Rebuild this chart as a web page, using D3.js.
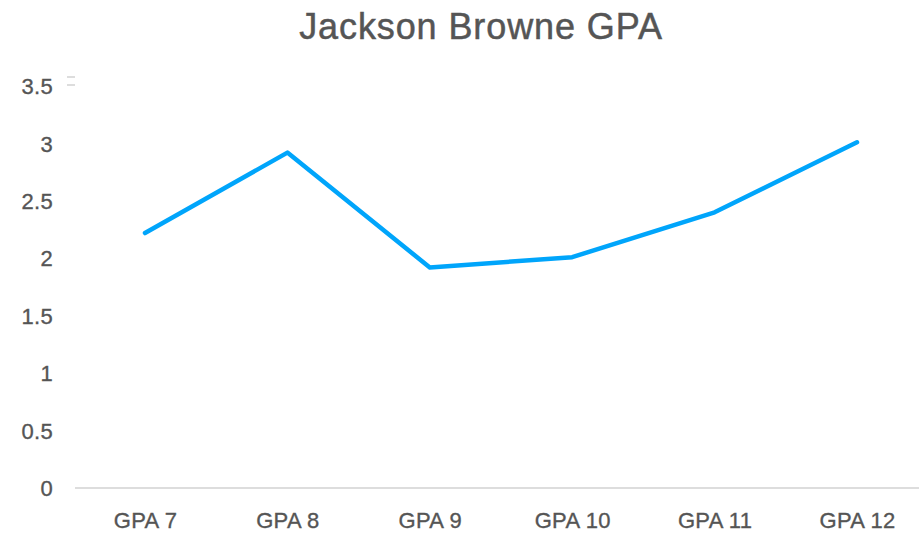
<!DOCTYPE html>
<html>
<head>
<meta charset="utf-8">
<script src="https://cdn.jsdelivr.net/npm/d3@7"></script>
<style>
  html, body { margin: 0; padding: 0; background: #fff; }
  svg { display: block; }
</style>
</head>
<body>
<svg id="chart" width="919" height="533"></svg>
<script>
const title = "Jackson Browne GPA";
const categories = ["GPA 7", "GPA 8", "GPA 9", "GPA 10", "GPA 11", "GPA 12"];
const values = [2.22, 2.92, 1.92, 2.01, 2.4, 3.01];
const yTicks = [0, 0.5, 1, 1.5, 2, 2.5, 3, 3.5];

const svg = d3.select("#chart");
const font = "'Liberation Sans', Arial, Helvetica, sans-serif";
const textColor = "#555";

const x = d3.scalePoint().domain(categories).range([145, 857]);
const y = d3.scaleLinear().domain([0, 3.5]).range([488, 86]);

// title
svg.append("text")
  .attr("x", 481).attr("y", 39)
  .attr("text-anchor", "middle")
  .attr("font-family", font)
  .attr("font-size", 36)
  .attr("letter-spacing", 0.9)
  .attr("fill", textColor)
  .attr("stroke", textColor).attr("stroke-width", 0.5)
  .text(title);

// y axis labels
const yAxis = d3.axisLeft(y).tickValues(yTicks).tickSize(0).tickPadding(0)
  .tickFormat(d => String(d));
const gy = svg.append("g").attr("transform", "translate(53,0)").call(yAxis);
gy.select(".domain").remove();
gy.selectAll("text")
  .attr("font-family", font).attr("font-size", 22).attr("fill", textColor)
  .attr("stroke", textColor).attr("stroke-width", 0.35)
  .attr("letter-spacing", 0.3)
  .attr("text-anchor", "end").attr("dy", "0.35em");

// small legend-like marks near top
svg.append("line").attr("x1", 67).attr("x2", 75).attr("y1", 77).attr("y2", 77)
  .attr("stroke", "#ddd").attr("stroke-width", 2);
svg.append("line").attr("x1", 67).attr("x2", 75).attr("y1", 85).attr("y2", 85)
  .attr("stroke", "#ddd").attr("stroke-width", 2);

// x axis
const xAxis = d3.axisBottom(x).tickSize(0).tickPadding(0);
const gx = svg.append("g").attr("transform", `translate(0,${y(0)})`).call(xAxis);
gx.select(".domain").remove();
gx.append("line").attr("x1", 75).attr("x2", 919).attr("y1", 0).attr("y2", 0)
  .attr("stroke", "#ddd").attr("stroke-width", 2);
gx.selectAll(".tick text")
  .attr("font-family", font).attr("font-size", 22).attr("fill", textColor)
  .attr("stroke", textColor).attr("stroke-width", 0.35)
  .attr("letter-spacing", 0.3)
  .attr("y", 40).attr("dy", null);

// line
const line = d3.line().x((d, i) => x(categories[i])).y(d => y(d));
svg.append("path")
  .datum(values)
  .attr("d", line)
  .attr("fill", "none")
  .attr("stroke", "#00a5fb")
  .attr("stroke-width", 4.5)
  .attr("stroke-linejoin", "round")
  .attr("stroke-linecap", "round");
</script>
</body>
</html>
